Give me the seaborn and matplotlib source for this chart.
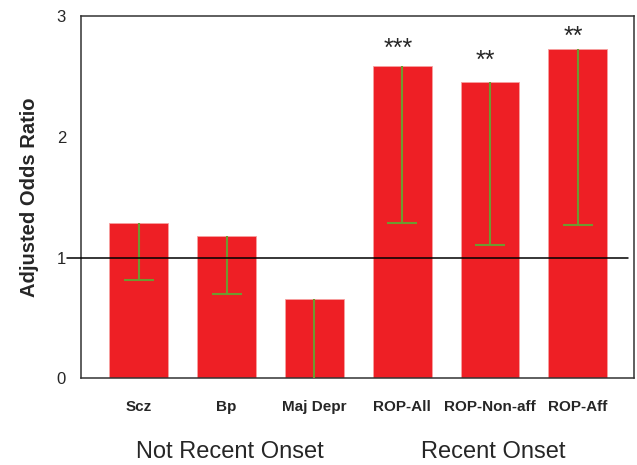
import matplotlib

matplotlib.use("Agg")
import matplotlib.pyplot as plt
import numpy as np
import pandas as pd
import seaborn as sns

# values
groups = ["Scz", "Bp", "Maj Depr", "ROP-All", "ROP-Non-aff", "ROP-Aff"]
odds_ratio = [1.29, 1.18, 0.66, 2.59, 2.45, 2.73]
lower_ci = [0.81, 0.70, 0.0, 1.29, 1.10, 1.27]
stars = ["", "", "", "***", "**", "**"]
star_offset = [0, 0, 0, 0.14, 0.18, 0.10]
onset_labels = ["Not Recent Onset", "Recent Onset"]

BAR_RED = "#ee1f25"
ERR_GREEN = "#6e9a30"

sns.set_style("white")
plt.rcParams["font.family"] = ["Liberation Sans", "DejaVu Sans"]

df = pd.DataFrame({"group": groups, "or": odds_ratio, "lo": lower_ci})

fig = plt.figure(figsize=(6.37, 4.65), dpi=100)
ax = fig.add_axes([0.1276, 0.1865, 0.8676, 0.779])

sns.barplot(data=df, x="group", y="or", color=BAR_RED, saturation=1,
            width=0.67, edgecolor="#f7a0a0", linewidth=0.6, ax=ax)

x = np.arange(len(groups))
ax.vlines(x, df["lo"], df["or"], color=ERR_GREEN, linewidth=1.5, zorder=3)
has_cap = df["lo"] > 0
ax.plot(x[has_cap], df["lo"][has_cap], ls="none", marker="_", ms=21.5,
        mew=1.5, color=ERR_GREEN, zorder=3)

for xi, val, s, off in zip(x, odds_ratio, stars, star_offset):
    if s:
        ax.text(xi - 0.05, val + off, s, ha="center", va="center", fontsize=18)

# reference line at OR = 1, extends a little past the left spine
ax.plot([-0.025, 0.99], [1, 1], transform=ax.get_yaxis_transform(),
        color="black", linewidth=1.1, clip_on=False, zorder=4)

ax.set_xlim(-0.655, 5.64)
ax.set_ylim(0, 3)
ax.set_yticks([0, 1, 2, 3])
ax.tick_params(axis="y", direction="in", length=5, width=1, labelsize=12, pad=11)
ax.tick_params(axis="x", length=0, labelsize=11, pad=16)
for lbl in ax.get_xticklabels():
    lbl.set_fontweight("bold")

ax.set_xlabel("")
ax.set_ylabel("Adjusted Odds Ratio", fontsize=14.5, fontweight="bold", labelpad=13)

for sp in ax.spines.values():
    sp.set_color("#333333")
    sp.set_linewidth(1.1)

# group captions under the tick labels
fig.text(230 / 637, 1 - 452 / 465, onset_labels[0], ha="center", va="center", fontsize=17)
fig.text(493 / 637, 1 - 452 / 465, onset_labels[1], ha="center", va="center", fontsize=17)

fig.savefig("out.png", dpi=100)
plt.close(fig)
